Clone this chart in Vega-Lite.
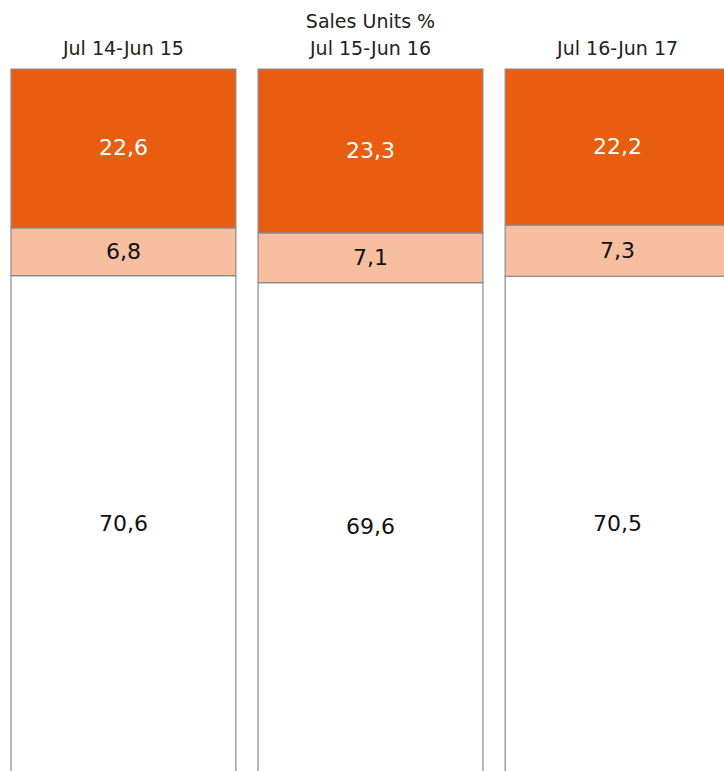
{
  "$schema": "https://vega.github.io/schema/vega-lite/v6.json",
  "autosize": {"type": "none"},
  "padding": {"left": 11, "top": 69, "right": 0, "bottom": 0},
  "width": 719,
  "height": 703,
  "background": "white",
  "title": {"text": "Sales Units %", "anchor": "middle", "font": "DejaVu Sans", "fontSize": 19, "fontWeight": "normal", "color": "#222", "offset": 7},
  "data": {"values": [
    {"period": "Jul 14-Jun 15", "segment": "Rest", "rank": 1, "value": 70.6},
    {"period": "Jul 14-Jun 15", "segment": "Middle", "rank": 2, "value": 6.8},
    {"period": "Jul 14-Jun 15", "segment": "Top", "rank": 3, "value": 22.6},
    {"period": "Jul 15-Jun 16", "segment": "Rest", "rank": 1, "value": 69.6},
    {"period": "Jul 15-Jun 16", "segment": "Middle", "rank": 2, "value": 7.1},
    {"period": "Jul 15-Jun 16", "segment": "Top", "rank": 3, "value": 23.3},
    {"period": "Jul 16-Jun 17", "segment": "Rest", "rank": 1, "value": 70.5},
    {"period": "Jul 16-Jun 17", "segment": "Middle", "rank": 2, "value": 7.3},
    {"period": "Jul 16-Jun 17", "segment": "Top", "rank": 3, "value": 22.2}
  ]},
  "encoding": {
    "x": {
      "field": "period", "type": "nominal", "sort": null,
      "scale": {"paddingInner": 0.09, "paddingOuter": 0},
      "axis": {"orient": "top", "title": null, "domain": false, "ticks": false, "labelPadding": 11, "labelFont": "DejaVu Sans", "labelFontSize": 19, "labelColor": "#222", "labelAngle": 0}
    },
    "y": {
      "field": "value", "type": "quantitative", "stack": "zero",
      "scale": {"domain": [0, 100]},
      "axis": null
    },
    "order": {"field": "rank", "type": "quantitative"}
  },
  "layer": [
    {
      "mark": {"type": "bar", "stroke": "#8a8a8a", "strokeWidth": 1.2},
      "encoding": {
        "color": {
          "field": "segment", "type": "nominal",
          "scale": {"domain": ["Top", "Middle", "Rest"], "range": ["#E85D0F", "#F7BEA0", "#FFFFFF"]},
          "legend": null
        }
      }
    },
    {
      "mark": {"type": "text", "font": "DejaVu Sans", "fontSize": 22, "baseline": "middle", "align": "center"},
      "encoding": {
        "y": {"field": "value", "type": "quantitative", "stack": "zero", "bandPosition": 0.5},
        "text": {"field": "value", "type": "quantitative", "format": ".1f"},
        "color": {"condition": {"test": "datum.segment === 'Top'", "value": "#ffffff"}, "value": "#111111"}
      }
    }
  ],
  "config": {
    "view": {"stroke": null},
    "locale": {"number": {"decimal": ",", "thousands": ".", "grouping": [3], "currency": ["", " €"]}}
  }
}
